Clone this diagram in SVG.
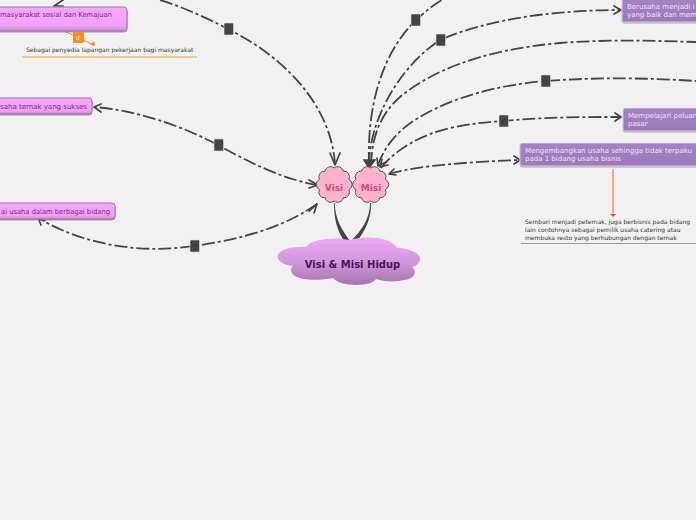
<svg xmlns="http://www.w3.org/2000/svg" width="696" height="520" viewBox="0 0 696 520">
<style>
text{font-family:"DejaVu Sans",Verdana,sans-serif}
.c{fill:none;stroke:#444;stroke-width:1.8;stroke-dasharray:13 3 3 3}
.a{fill:none;stroke:#444;stroke-width:1.7;stroke-linecap:round;stroke-linejoin:round}
.h{fill:#444;stroke:#ddd;stroke-width:.6}
.p{font-size:7px;fill:#7a2a8a;text-anchor:end}
.w{font-size:7px;fill:#efe2f7}
.n{font-size:6px;fill:#333}
.pk{fill:url(#pink);stroke:#a56cb0;stroke-width:1}
.pu{fill:url(#pur);stroke:#e8e0ee;stroke-width:.8}
.cl{fill:#ffb3cf;stroke:#555;stroke-width:1}
.ct{font-size:9px;font-weight:bold;fill:#cc4a78;text-anchor:middle}
</style>
<defs>
<linearGradient id="pink" x1="0" y1="0" x2="0" y2="1"><stop offset="0" stop-color="#f4a9fb"/><stop offset=".8" stop-color="#efa0f6"/><stop offset="1" stop-color="#c98ad0"/></linearGradient>
<linearGradient id="pur" x1="0" y1="0" x2="0" y2="1"><stop offset="0" stop-color="#a581c4"/><stop offset="1" stop-color="#9c78ba"/></linearGradient>
<linearGradient id="cloud" x1="0" y1="0" x2="0" y2="1"><stop offset="0" stop-color="#ecaaf8"/><stop offset=".5" stop-color="#d297dd"/><stop offset="1" stop-color="#a574ad"/></linearGradient>
<filter id="s" x="-5%" y="-20%" width="110%" height="150%"><feDropShadow dx="0" dy="1" stdDeviation=".7" flood-color="#777" flood-opacity=".7"/></filter>
<path id="blob" class="cl" d="M334.200 168A5.600 5.600 0 0 1 343.300 171.200A5.600 5.600 0 0 1 348.900 179.400A5.600 5.600 0 0 1 348.900 189.600A5.600 5.600 0 0 1 343.300 197.800A5.600 5.600 0 0 1 334.200 201A5.600 5.600 0 0 1 325.100 197.800A5.600 5.600 0 0 1 319.500 189.600A5.600 5.600 0 0 1 319.500 179.400A5.600 5.600 0 0 1 325.100 171.200A5.600 5.600 0 0 1 334.200 168Z"/>
</defs>
<rect width="696" height="520" fill="#f1f1f1"/>
<g id="connectors">
<path class="c" d="M335 165C332 110 290 60 228 29C205 17 180 6 160 0"/>
<path class="c" d="M318 185C285 180 250 163 218 145C180 125 135 110 94 107"/>
<path class="c" d="M317 204C280 230 235 240 194 246C140 254 85 245 40 219"/>
<path class="c" d="M369 165C367 110 380 55 416 20C425 12 433 5 442 0"/>
<path class="c" d="M369 165C369 125 395 70 440 40C490 18 560 10 620 10"/>
<path class="c" d="M371 165C372 130 385 110 400 97C430 72 480 50 560 43C610 39 660 41 696 42"/>
<path class="c" d="M378 165C385 145 400 128 420 117C455 96 500 85 545 81C600 77 650 78 696 81"/>
<path class="c" d="M381 168C395 150 420 135 450 128C470 124 485 122 503 121C545 117 585 117 621 117"/>
<path class="c" d="M389 174C420 165 470 162 519 160"/>
<path d="M334 203C334 219 337 230 344 241L350 241C342 230 335 219 334.800 203Z" fill="#444"/>
<path d="M370.200 203C369.500 219 362 230 351 241L357 241C365 231 371.500 219 371 203Z" fill="#444"/>
<path class="a" d="M330 153L335 165L340 153"/>
<path d="M364 160L369 168L375 160Z" fill="#444" stroke="#444" stroke-width="1.5"/>
<path class="a" d="M377 158L378 166L386 162"/>
<path class="a" d="M382 159L380 167L388 165"/>
<path class="a" d="M394 169L389 174L396 175"/>
<path class="a" d="M309 180L318 185L309 188"/>
<path class="a" d="M309 211L317 204L314 213"/>
<path class="a" d="M101 104L94 107L101 112"/>
<path class="a" d="M41 225L38.500 219L45 220.500"/>
<path class="a" d="M63 0L54 6L63 6"/>
<path class="a" d="M614 6L621 10L614 14"/>
<path class="a" d="M615 113L621 117L615 121"/>
<path class="a" d="M514 156L520 160L514 164"/>
<rect class="h" x="224" y="23" width="9.500" height="12" rx="1"/>
<rect class="h" x="214" y="139" width="9.500" height="12" rx="1"/>
<rect class="h" x="190" y="240" width="9.500" height="12" rx="1"/>
<rect class="h" x="411" y="14" width="9.500" height="12" rx="1"/>
<rect class="h" x="436" y="34" width="9.500" height="12" rx="1"/>
<rect class="h" x="541" y="75" width="9.500" height="12" rx="1"/>
<rect class="h" x="499" y="115" width="9.500" height="12" rx="1"/>
<path d="M66 32L94 45" stroke="#ff8c1a" stroke-width="1" fill="none"/>
<path d="M90 45L94 41L95 46Z" fill="#ff8c1a"/>
<path d="M613 169L613 214" stroke="#f0775a" stroke-width="1.2" fill="none"/>
<path d="M610 214L616 214L613 217Z" fill="#e8502a"/>
</g>
<g id="node-masyarakat">
<rect class="pk" filter="url(#s)" x="-20" y="7" width="147" height="24" rx="3"/>
<text class="p" x="112" y="17" textLength="112" lengthAdjust="spacingAndGlyphs">masyarakat sosial dan Kemajuan</text>
</g>
<g id="node-d">
<rect x="73" y="32" width="11" height="11" rx="1" fill="#ff8c1a"/>
<text x="78" y="40" font-size="6" fill="#fff" text-anchor="middle">d</text>
</g>
<g id="node-penyedia">
<text class="n" x="26" y="52">Sebagai penyedia lapangan pekerjaan bagi masyarakat</text>
<path d="M22 57H197" stroke="#f9b86e" stroke-width="1.300"/>
</g>
<g id="node-ternak">
<rect class="pk" filter="url(#s)" x="-20" y="98" width="112" height="16" rx="3"/>
<text class="p" x="87" y="109">saha ternak yang sukses</text>
</g>
<g id="node-bidang">
<rect class="pk" filter="url(#s)" x="-30" y="203" width="145" height="16" rx="3"/>
<text class="p" x="110" y="214" textLength="109" lengthAdjust="spacingAndGlyphs">ai usaha dalam berbagai bidang</text>
</g>
<g id="node-berusaha">
<rect class="pu" filter="url(#s)" x="622" y="-2" width="90" height="24" rx="2"/>
<text class="w" x="627" y="9">Berusaha menjadi i</text>
<text class="w" x="627" y="17">yang baik dan mem</text>
</g>
<g id="node-peluang">
<rect class="pu" filter="url(#s)" x="623" y="108" width="90" height="23" rx="2"/>
<text class="w" x="628" y="118">Mempelajari peluan</text>
<text class="w" x="628" y="126">pasar</text>
</g>
<g id="node-mengembangkan">
<rect class="pu" filter="url(#s)" x="520" y="143" width="190" height="23" rx="2"/>
<text class="w" x="525" y="153">Mengembangkan usaha sehingga tidak terpaku</text>
<text class="w" x="525" y="161">pada 1 bidang usaha bisnis</text>
</g>
<g id="node-sembari">
<text class="n" x="525" y="224">Sembari menjadi peternak, juga berbisnis pada bidang</text>
<text class="n" x="525" y="232">lain contohnya sebagai pemilik usaha catering atau</text>
<text class="n" x="525" y="240">membuka resto yang berhubungan dengan ternak</text>
<path d="M521 243.500H696" stroke="#999" stroke-width="1"/>
</g>
<g id="node-visi">
<use href="#blob"/>
<text class="ct" x="334" y="191">Visi</text>
</g>
<g id="node-misi">
<use href="#blob" x="36.500"/>
<text class="ct" x="371" y="191">Misi</text>
</g>
<g id="node-root">
<path d="M306 247C310 240 330 236 350 240C362 236 390 236 397 248C410 248 421 254 420 259C420 263 416 266 412 267C418 272 414 279 404 280C396 282 384 282 376 279C372 287 340 287 333 278C320 281 296 281 292 273C290 270 291 268 293 266C283 265 276 260 278 255C280 249 294 246 306 247Z" fill="url(#cloud)"/>
<text x="352.500" y="268" font-size="10" font-weight="bold" fill="#4d1259" text-anchor="middle">Visi &amp; Misi Hidup</text>
</g>
</svg>
